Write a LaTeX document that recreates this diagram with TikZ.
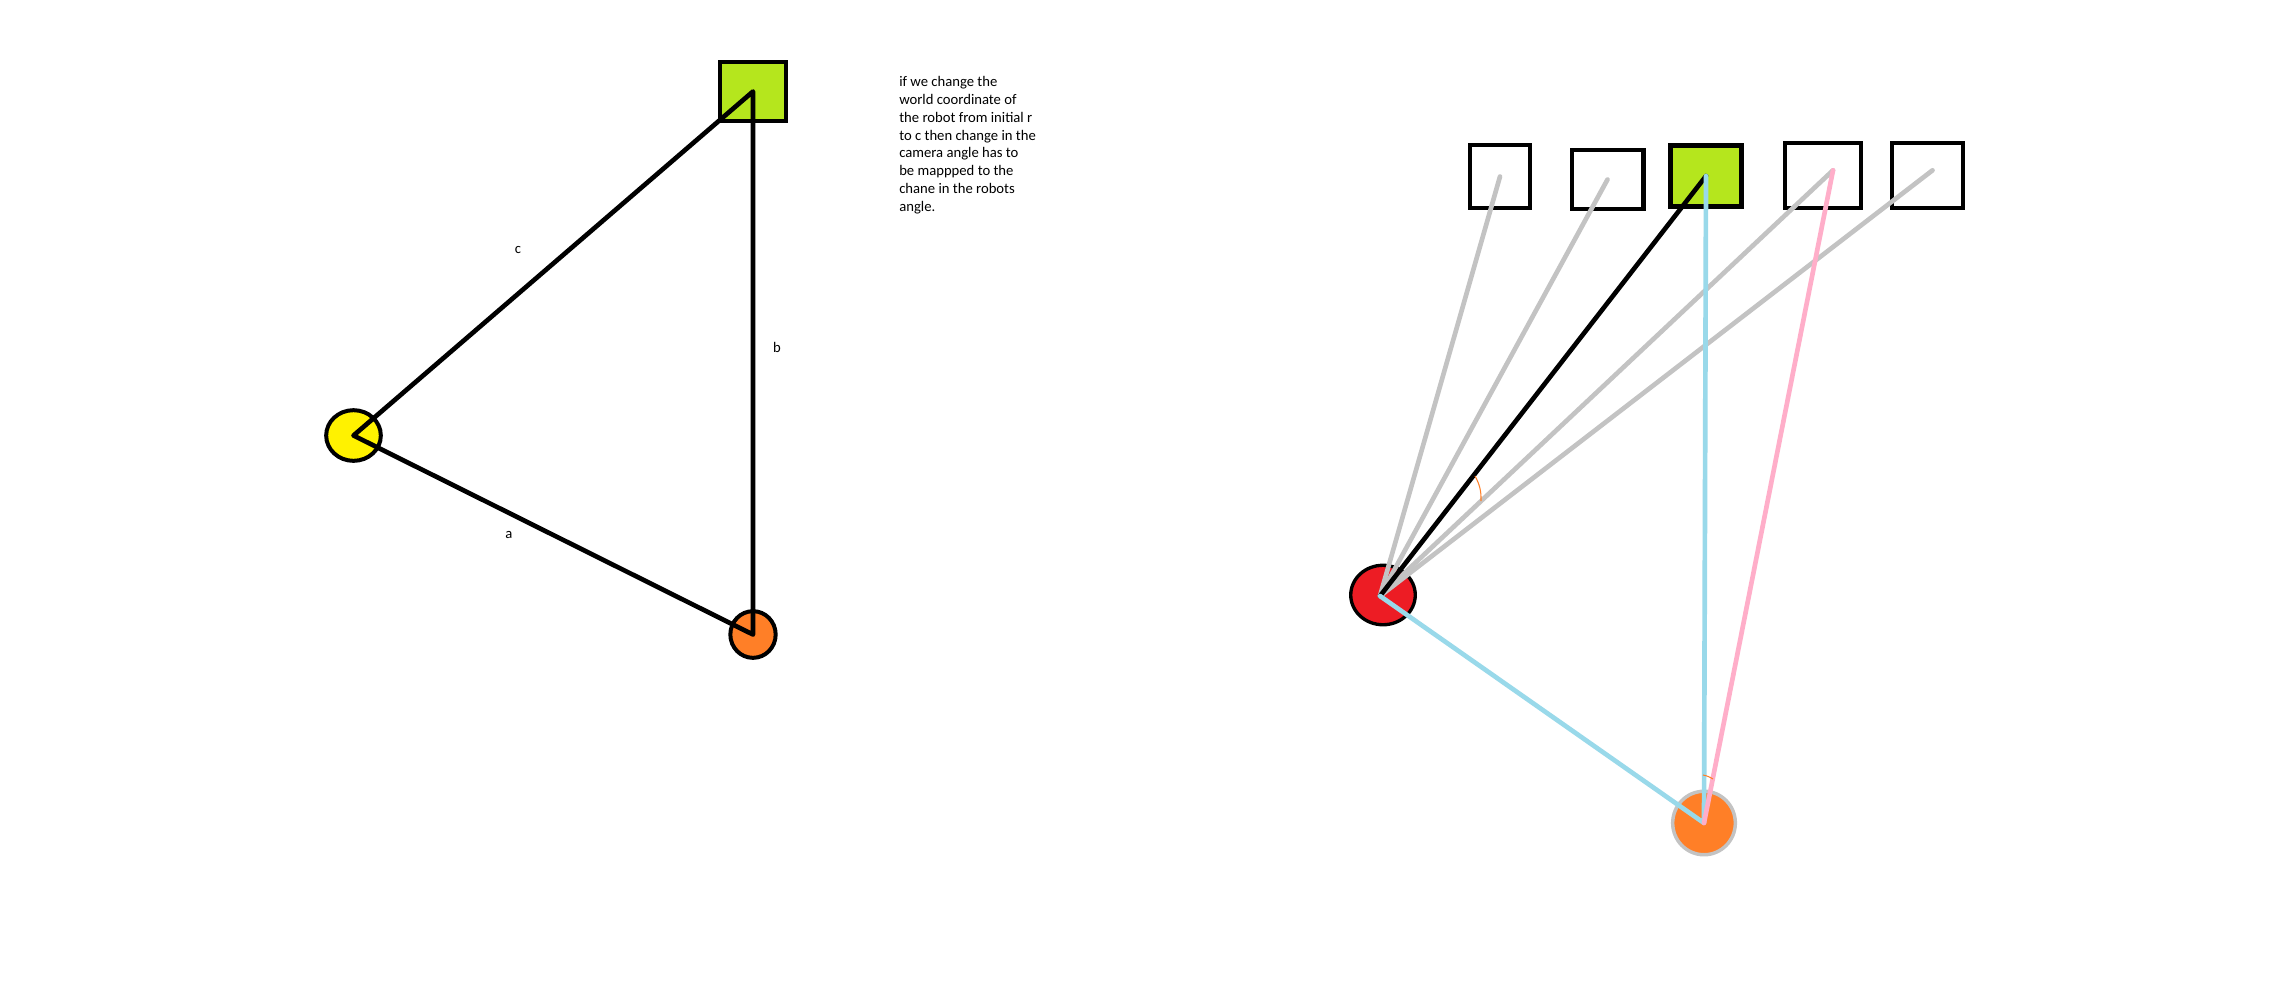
\documentclass[tikz,border=0pt]{standalone}
\usepackage{fontspec}
\setmainfont{Carlito}
\usetikzlibrary{shapes.geometric,calc}
\definecolor{paintgreen}{HTML}{B5E61D}
\definecolor{paintyellow}{HTML}{FFF200}
\definecolor{paintorange}{HTML}{FF7F27}
\definecolor{paintred}{HTML}{ED1C24}
\definecolor{raygray}{HTML}{C3C3C3}
\definecolor{paintblue}{HTML}{99D9EA}
\definecolor{paintpink}{HTML}{FFAEC9}
\begin{document}
\begin{tikzpicture}[x=0.75pt,y=-0.75pt,font=\fontsize{11}{13.4}\selectfont]
  \tikzstyle{box node}=[rectangle,draw,line width=3.2pt,inner sep=0]
  \tikzstyle{ball node}=[ellipse,draw,line width=3pt,inner sep=0]
  \tikzstyle{thick line}=[line width=3.5pt,line cap=round,line join=round]
  \tikzstyle{ray}=[thick line,draw=raygray]
  \tikzstyle{angle mark}=[draw=paintorange,line width=0.8pt]
  \tikzstyle{label node}=[inner sep=0]

  \path[use as bounding box,fill=white] (0,0) rectangle (2270,990);

  \node(goal)[box node,fill=paintgreen,minimum width=49pt,minimum height=44pt] at (753,91.5){};
  \node(start)[ball node,fill=paintyellow,minimum width=41pt,minimum height=38pt] at (353.5,435.5){};
  \node(end)[ball node,fill=paintorange,minimum width=34pt,minimum height=35pt] at (753,634.5){};
  \draw[thick line] (end.center) -- (start.center) -- (goal.center) -- cycle;
  \node(a)[label node] at (509,535){a};
  \node(b)[label node] at (777,347){b};
  \node(c)[label node] at (518,250){c};

  \node(note)[anchor=north west,align=left,inner sep=0] at (899,76){if we change the\\
    world coordinate of\\
    the robot from initial r\\
    to c then change in the\\
    camera angle has to\\
    be mappped to the\\
    chane in the robots\\
    angle.};

  \node(b1)[box node,minimum width=45.4pt,minimum height=47pt] at (1500,176.5){};
  \node(b2)[box node,minimum width=53.8pt,minimum height=44.3pt] at (1607.5,179.5){};
  \node(b3)[box node,fill=paintgreen,minimum width=53.3pt,minimum height=45.8pt] at (1706,176){};
  \node(b4)[box node,minimum width=57pt,minimum height=49pt] at (1823,175.3){};
  \node(b5)[box node,minimum width=53.3pt,minimum height=49pt] at (1927.5,175.3){};
  \node(robot)[ball node,line width=2.5pt,fill=paintred,minimum width=48.4pt,minimum height=44.6pt] at (1383,595){};
  \node(target)[ball node,draw=raygray,line width=2.6pt,fill=paintorange,minimum width=47pt,minimum height=47.6pt] at (1704,823){};

  \coordinate (eye) at ($(robot.center)+(-3,1)$);
  \coordinate (t4) at ($(b4.center)+(10,-5)$);
  \coordinate (t5) at ($(b5.center)+(5,-5)$);
  \foreach \n in {b1.center,b2.center,t4,t5}
    \draw[ray] (eye) -- (\n);
  \draw[thick line] (eye) -- (b3.center);
  \draw[thick line,draw=paintblue] (eye) -- (target.center) -- (b3.center);
  \draw[thick line,draw=paintpink] (t4) -- (target.center);

  \draw[angle mark] (1475,476) to[bend left=15] (1481,501);
  \draw[angle mark] (1703,775) to[bend left=10] (1713,779);
\end{tikzpicture}
\end{document}
